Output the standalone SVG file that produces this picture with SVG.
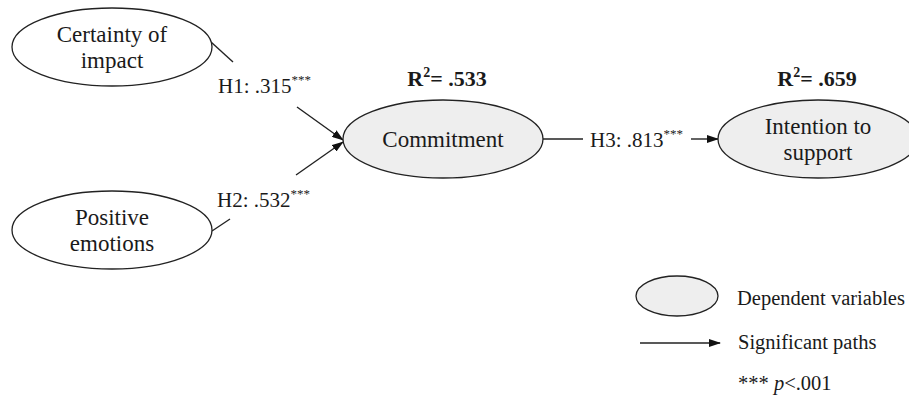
<svg xmlns="http://www.w3.org/2000/svg" width="909" height="405" viewBox="0 0 909 405">
<style>
text{font-family:'Liberation Serif','Times New Roman',Times,'DejaVu Serif',serif;fill:#1a1a1a}
.node{font-size:23px;text-anchor:middle}
.lab{font-size:21px}
.r2{font-size:22px;font-weight:bold;text-anchor:middle}
.leg{font-size:20.5px}
.ind{fill:#ffffff;stroke:#222;stroke-width:1.3}
.dep{fill:#eeeeee;stroke:#222;stroke-width:1.3}
.con{stroke:#222;stroke-width:1.4;fill:none}
.st{font-size:13px}
</style>
<defs>
<marker id="ah" markerWidth="12" markerHeight="8" refX="11" refY="4" orient="auto" markerUnits="userSpaceOnUse">
<path d="M0,0 L12,4 L0,8 z" fill="#111"/>
</marker>
</defs>
<rect width="909" height="405" fill="#fff"/>
<g id="connectors">
<line class="con" x1="211" y1="42" x2="233" y2="62"/>
<line class="con" x1="297" y1="107" x2="343" y2="140" marker-end="url(#ah)"/>
<line class="con" x1="212" y1="231" x2="230" y2="219"/>
<line class="con" x1="296" y1="175" x2="343" y2="142" marker-end="url(#ah)"/>
<line class="con" x1="542" y1="139" x2="583" y2="139"/>
<line class="con" x1="691" y1="139" x2="718" y2="139" marker-end="url(#ah)"/>
<text class="lab" x="218" y="93">H1: .315<tspan class="st" dy="-9">***</tspan></text>
<text class="lab" x="217" y="207">H2: .532<tspan class="st" dy="-9">***</tspan></text>
<text class="lab" x="590" y="147">H3: .813<tspan class="st" dy="-9">***</tspan></text>
</g>
<g id="certainty">
<ellipse class="ind" cx="112" cy="47" rx="100" ry="39"/>
<text class="node" x="112" y="42">Certainty of</text>
<text class="node" x="112" y="68">impact</text>
</g>
<g id="positive">
<ellipse class="ind" cx="112" cy="230" rx="100" ry="39"/>
<text class="node" x="112" y="225">Positive</text>
<text class="node" x="112" y="251">emotions</text>
</g>
<g id="commitment">
<ellipse class="dep" cx="443" cy="139" rx="100" ry="39"/>
<text class="node" x="443" y="147">Commitment</text>
<text class="r2" x="447" y="86">R<tspan font-size="14" dy="-9">2</tspan><tspan dy="9">= .533</tspan></text>
</g>
<g id="intention">
<ellipse class="dep" cx="818" cy="139" rx="100" ry="39"/>
<text class="node" x="818" y="134">Intention to</text>
<text class="node" x="818" y="160">support</text>
<text class="r2" x="817" y="86">R<tspan font-size="14" dy="-9">2</tspan><tspan dy="9">= .659</tspan></text>
</g>
<g id="legend">
<ellipse class="dep" cx="677" cy="296" rx="41" ry="20"/>
<text class="leg" x="737" y="305">Dependent variables</text>
<line class="con" x1="640" y1="343" x2="720" y2="343" marker-end="url(#ah)"/>
<text class="leg" x="738" y="349">Significant paths</text>
<text class="leg" x="738" y="390">*** <tspan font-style="italic">p</tspan>&lt;.001</text>
</g>
</svg>
